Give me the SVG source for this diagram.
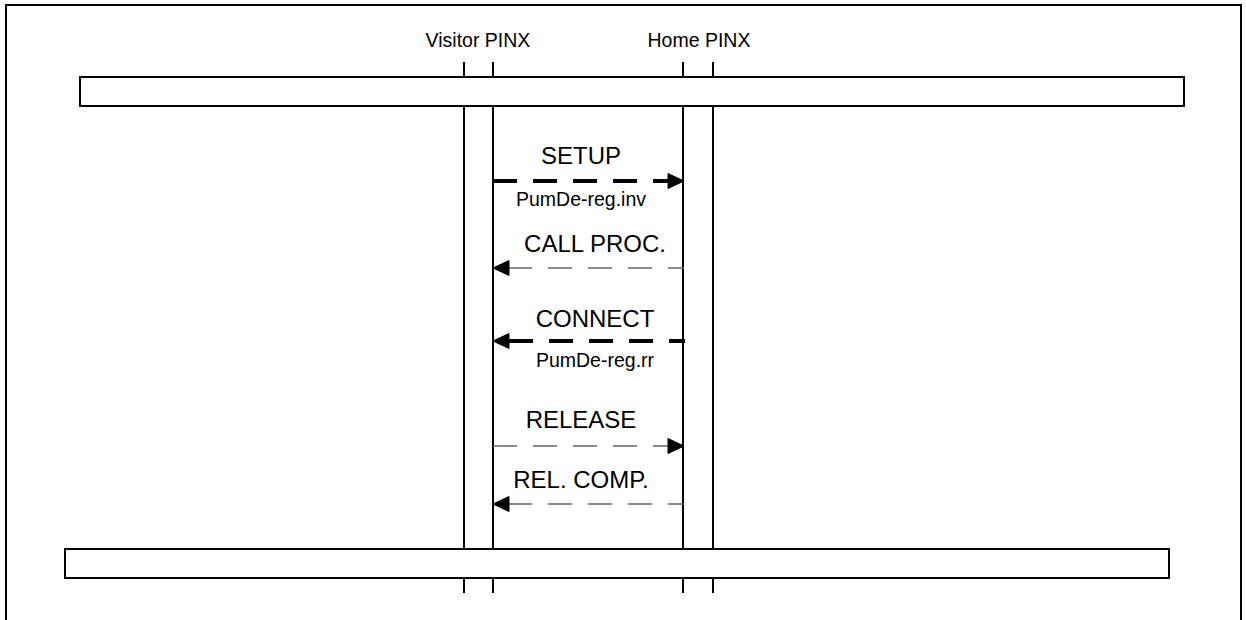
<svg xmlns="http://www.w3.org/2000/svg" width="1246" height="620" viewBox="0 0 1246 620">
<style>
  text { font-family: "Liberation Sans", Arial, sans-serif; fill: #000; text-anchor: middle; }
  .lbl { font-size: 19.5px; }
  .msg { font-size: 24px; }
  .bar { fill: #fff; stroke: #000; stroke-width: 2; }
  .life { stroke: #000; stroke-width: 2; fill: none; }
  .thick { stroke: #000; stroke-width: 4; stroke-dasharray: 24 16; fill: none; }
  .thin { stroke: #666; stroke-width: 1.5; stroke-dasharray: 24 16; fill: none; }
</style>
<defs>
  <marker id="ah" viewBox="-1 -1 18 17" refX="16" refY="7.5" markerWidth="18" markerHeight="17" markerUnits="userSpaceOnUse" orient="auto">
    <path d="M0,0 L16,7.5 L0,15 Z" fill="#000" stroke="#000" stroke-width="1"/>
  </marker>
</defs>
<rect width="1246" height="620" fill="#fff"/>
<path d="M6,620 V5 H1241 V620" fill="none" stroke="#000" stroke-width="2"/>

<g id="visitor-pinx">
  <text class="lbl" x="478" y="47">Visitor PINX</text>
  <line class="life" x1="464" y1="62" x2="464" y2="77"/>
  <line class="life" x1="493" y1="62" x2="493" y2="77"/>
  <line class="life" x1="464" y1="106" x2="464" y2="549"/>
  <line class="life" x1="493" y1="106" x2="493" y2="549"/>
  <line class="life" x1="464" y1="578" x2="464" y2="593"/>
  <line class="life" x1="493" y1="578" x2="493" y2="593"/>
</g>
<g id="home-pinx">
  <text class="lbl" x="699" y="47">Home PINX</text>
  <line class="life" x1="683" y1="62" x2="683" y2="77"/>
  <line class="life" x1="713" y1="62" x2="713" y2="77"/>
  <line class="life" x1="683" y1="106" x2="683" y2="549"/>
  <line class="life" x1="713" y1="106" x2="713" y2="549"/>
  <line class="life" x1="683" y1="578" x2="683" y2="593"/>
  <line class="life" x1="713" y1="578" x2="713" y2="593"/>
</g>
<g id="top-bar">
  <rect class="bar" x="80" y="77" width="1104" height="29"/>
</g>
<g id="bottom-bar">
  <rect class="bar" x="65" y="549" width="1104" height="29"/>
</g>

<g id="connectors">
  <line class="thick" x1="493" y1="181" x2="684" y2="181" marker-end="url(#ah)"/>
  <line class="thin" x1="684" y1="268" x2="493" y2="268" stroke-dashoffset="8" marker-end="url(#ah)"/>
  <line class="thick" x1="685" y1="341" x2="493" y2="341" stroke-dashoffset="8" marker-end="url(#ah)"/>
  <line class="thin" x1="493" y1="446" x2="684" y2="446" marker-end="url(#ah)"/>
  <line class="thin" x1="684" y1="504" x2="493" y2="504" stroke-dashoffset="8" marker-end="url(#ah)"/>
</g>

<g id="labels">
  <text class="msg" x="581" y="164">SETUP</text>
  <text class="lbl" x="581" y="206">PumDe-reg.inv</text>
  <text class="msg" x="595" y="252">CALL PROC.</text>
  <text class="msg" x="595" y="327">CONNECT</text>
  <text class="lbl" x="595" y="367">PumDe-reg.rr</text>
  <text class="msg" x="581" y="428">RELEASE</text>
  <text class="msg" x="581" y="488">REL. COMP.</text>
</g>
</svg>
